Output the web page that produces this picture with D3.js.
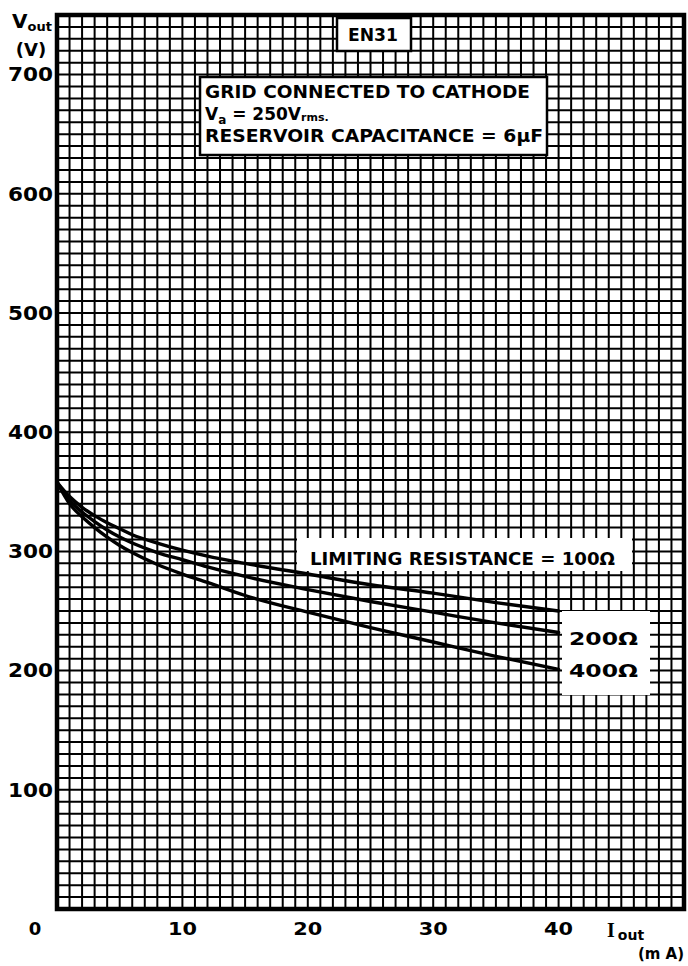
<!DOCTYPE html>
<html>
<head>
<meta charset="utf-8">
<script src="https://cdn.jsdelivr.net/npm/d3@7"></script>
<style>
  html, body { margin: 0; padding: 0; background: #fff; }
  svg { display: block; }
  text { font-family: "DejaVu Sans", sans-serif; font-weight: bold; fill: #000; }
</style>
</head>
<body>
<script>
// ---- data ----
const currents = [0, 1, 2, 3, 4, 5, 6, 8, 10, 12, 15, 20, 25, 30, 35, 40];      // mA
const v100ohm  = [358, 346, 337, 330, 324, 319, 314, 307, 301, 296, 290, 281, 272, 265, 257, 250];
const v200ohm  = [358, 343, 333, 325, 318, 312, 307, 299, 293, 287, 279, 268, 258, 249, 240, 232];
const v400ohm  = [358, 340, 329, 320, 312, 305, 299, 289, 281, 274, 263, 249, 236, 224, 212, 201];
const seriesNames = ["100Ω", "200Ω", "400Ω"];
const xTickValues = [10, 20, 30, 40];
const xTickLabels = ["10", "20", "30", "40"];
const yTickValues = [100, 200, 300, 400, 500, 600, 700];
const yTickLabels = ["100", "200", "300", "400", "500", "600", "700"];

// ---- layout ----
const W = 688, H = 966;
const L = 57, R = 684, T = 15, B = 909;

const x = d3.scaleLinear().domain([0, 50]).range([L, R]);
const y = d3.scaleLinear().domain([0, 750]).range([B, T]);

const svg = d3.select("body").append("svg").attr("width", W).attr("height", H);
svg.append("rect").attr("width", W).attr("height", H).attr("fill", "#fff");

// grid
const g = svg.append("g");
g.selectAll("line.vx").data(d3.range(1, 50)).join("line")
  .attr("x1", d => x(d)).attr("x2", d => x(d))
  .attr("y1", y(0)).attr("y2", y(750))
  .attr("stroke", "#000").attr("stroke-width", 2.0);
g.selectAll("line.hy").data(d3.range(10, 750, 10)).join("line")
  .attr("y1", d => y(d)).attr("y2", d => y(d))
  .attr("x1", x(0)).attr("x2", x(50))
  .attr("stroke", "#000").attr("stroke-width", 2.0);

// frame
svg.append("rect").attr("x", x(0)).attr("y", y(750))
  .attr("width", x(50) - x(0)).attr("height", y(0) - y(750))
  .attr("fill", "none").attr("stroke", "#000").attr("stroke-width", 4.5);

// white label boxes
function box(x0, y0, x1, y1, stroke) {
  svg.append("rect").attr("x", x0).attr("y", y0).attr("width", x1 - x0).attr("height", y1 - y0)
    .attr("fill", "#fff").attr("stroke", stroke ? "#000" : "none").attr("stroke-width", 2.5);
}
box(337, 18, 411, 51, true);
box(200, 77, 547, 155, true);
box(297, 538, 632, 571, false);
box(562, 611, 650, 695, false);

// curves
const line = d3.line().x((d, i) => x(currents[i])).y(d => y(d)).curve(d3.curveMonotoneX);
[v100ohm, v200ohm, v400ohm].forEach(vals => {
  svg.append("path").attr("d", line(vals))
    .attr("fill", "none").attr("stroke", "#000").attr("stroke-width", 3.4)
    .attr("stroke-linecap", "round");
});

// title box text
svg.append("text").attr("x", 373).attr("y", 41).attr("text-anchor", "middle")
  .attr("font-size", 17).attr("textLength", 50).attr("lengthAdjust", "spacingAndGlyphs").text("EN31");

// conditions
svg.append("text").attr("x", 205).attr("y", 98).attr("font-size", 17)
  .attr("textLength", 325).attr("lengthAdjust", "spacingAndGlyphs").text("GRID CONNECTED TO CATHODE");
const va = svg.append("text").attr("x", 205).attr("y", 120).attr("font-size", 17);
va.append("tspan").text("V");
va.append("tspan").attr("font-size", 12).attr("dy", 4).text("a");
va.append("tspan").attr("dy", -4).text(" = 250V");
va.append("tspan").attr("font-size", 11).attr("dy", 1).text("rms.");
svg.append("text").attr("x", 205).attr("y", 142).attr("font-size", 17)
  .attr("textLength", 338).attr("lengthAdjust", "spacingAndGlyphs").text("RESERVOIR CAPACITANCE = 6μF");

// series labels
svg.append("text").attr("x", 310).attr("y", 565).attr("font-size", 17)
  .attr("textLength", 305).attr("lengthAdjust", "spacingAndGlyphs").text("LIMITING RESISTANCE = " + seriesNames[0]);
svg.append("text").attr("x", 569).attr("y", 645).attr("font-size", 18)
  .attr("textLength", 69).attr("lengthAdjust", "spacingAndGlyphs").text(seriesNames[1]);
svg.append("text").attr("x", 569).attr("y", 677).attr("font-size", 18)
  .attr("textLength", 69).attr("lengthAdjust", "spacingAndGlyphs").text(seriesNames[2]);

// y tick labels
svg.selectAll("text.yt").data(yTickValues).join("text")
  .attr("x", 53).attr("y", d => y(d)).attr("dy", "0.36em")
  .attr("text-anchor", "end").attr("font-size", 19)
  .attr("textLength", 45).attr("lengthAdjust", "spacingAndGlyphs")
  .text((d, i) => yTickLabels[i]);

// x tick labels
svg.selectAll("text.xt").data(xTickValues).join("text")
  .attr("x", d => x(d)).attr("y", 935)
  .attr("text-anchor", "middle").attr("font-size", 18)
  .attr("textLength", 29).attr("lengthAdjust", "spacingAndGlyphs")
  .text((d, i) => xTickLabels[i]);
svg.append("text").attr("x", 35).attr("y", 935).attr("text-anchor", "middle")
  .attr("font-size", 18).text("0");

// axis titles
const yt = svg.append("text").attr("x", 12).attr("y", 28).attr("font-size", 20);
yt.append("tspan").text("V");
yt.append("tspan").attr("font-size", 13).attr("dy", 3).text("out");
svg.append("text").attr("x", 31).attr("y", 56).attr("text-anchor", "middle")
  .attr("font-size", 18).text("(V)");

const xt = svg.append("text").attr("x", 607).attr("y", 937).attr("font-size", 20);
xt.append("tspan").attr("font-family", "Liberation Serif").text("I");
xt.append("tspan").attr("font-size", 14).attr("dy", 3).attr("dx", 3).text("out");
svg.append("text").attr("x", 661).attr("y", 959).attr("text-anchor", "middle")
  .attr("font-size", 15).text("(m A)");
</script>
</body>
</html>
